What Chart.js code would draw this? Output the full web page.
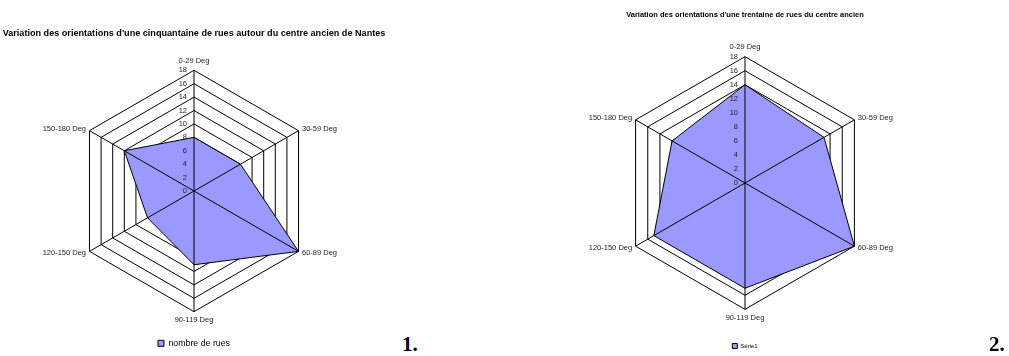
<!DOCTYPE html>
<html>
<head>
<meta charset="utf-8">
<script src="https://cdn.jsdelivr.net/npm/chart.js@4/dist/chart.umd.min.js"></script>
<style>
body { margin: 0; background: #fff; width: 1009px; height: 356px; overflow: hidden; position: relative; font-family: "Liberation Sans", Arial, sans-serif; }
.box { position: absolute; top: 0; }
.num { position: absolute; font-family: "Liberation Serif", "Times New Roman", serif; font-weight: bold; font-size: 21px; color: #000; }
</style>
</head>
<body>
<div class="box" style="left:0px"><canvas id="chart1" width="388" height="356"></canvas></div>
<div class="box" style="left:500px"><canvas id="chart2" width="490" height="356"></canvas></div>
<div class="num" style="left:402px;top:332px">1.</div>
<div class="num" style="left:989px;top:332px">2.</div>

<script>
// data
const orientations = ["0-29 Deg", "30-59 Deg", "60-89 Deg", "90-119 Deg", "120-150 Deg", "150-180 Deg"];
const ruesNantes = [8, 8, 18, 11, 8, 12];
const ruesCentre = [14, 13, 18, 15, 15, 12];
const scaleMax = 18;
const scaleStep = 2;

const FONT = "'Liberation Sans', Arial, sans-serif";

// spokes and tick labels drawn over the filled area, like the original
const overlay = {
    id: "overlay",
    afterDatasetsDraw(chart) {
        const r = chart.scales.r;
        const ctx = chart.ctx;
        ctx.save();
        ctx.strokeStyle = "#000";
        ctx.lineWidth = 1;
        for (let i = 0; i < orientations.length; i++) {
            const p = r.getPointPositionForValue(i, r.max);
            ctx.beginPath();
            ctx.moveTo(r.xCenter, r.yCenter);
            ctx.lineTo(p.x, p.y);
            ctx.stroke();
        }
        ctx.fillStyle = "#222";
        ctx.font = "7.5px " + FONT;
        ctx.textAlign = "right";
        ctx.textBaseline = "middle";
        r.ticks.forEach(t => {
            const d = r.getDistanceFromCenterForValue(t.value);
            ctx.fillText(t.label, r.xCenter - 7, r.yCenter - d);
        });
        ctx.restore();
    }
};

function radarOptions(o) {
    return {
        responsive: false,
        animation: false,
        layout: { padding: { top: o.top, bottom: o.bottom, left: 0, right: 0 } },
        plugins: {
            title: {
                display: true,
                text: o.title,
                color: "#000",
                font: { family: FONT, size: o.titleSize, weight: "bold" },
                padding: { top: 0, bottom: o.titleGap }
            },
            legend: {
                position: "bottom",
                labels: {
                    color: "#000",
                    boxWidth: o.box,
                    boxHeight: o.box,
                    padding: o.legendGap,
                    font: { family: FONT, size: o.legendSize }
                }
            },
            tooltip: { enabled: false }
        },
        scales: {
            r: {
                min: 0,
                max: scaleMax,
                ticks: { stepSize: scaleStep, display: false },
                grid: { color: "#000", lineWidth: 1 },
                angleLines: { display: false },
                pointLabels: {
                    color: "#222",
                    padding: ctx => o.labelPad[ctx.index],
                    font: { family: FONT, size: 7.5, lineHeight: 0.01 }
                }
            }
        }
    };
}

function makeDataset(label, values) {
    return {
        label: label,
        data: values,
        backgroundColor: "#9999FF",
        borderColor: "#000",
        borderWidth: 1,
        fill: true,
        pointRadius: 0,
        tension: 0
    };
}

new Chart(document.getElementById("chart1"), {
    type: "radar",
    data: { labels: orientations, datasets: [makeDataset("nombre de rues", ruesNantes)] },
    options: radarOptions({
        title: "Variation des orientations d'une cinquantaine de rues autour du centre ancien de Nantes",
        titleSize: 9.1, titleGap: 21.5, top: 28, bottom: -1.7,
        legendSize: 8.8, box: 6, legendGap: 17.2,
        labelPad: [9.8, 4, 4, 8.4, 4, 4]
    }),
    plugins: [overlay]
});

new Chart(document.getElementById("chart2"), {
    type: "radar",
    data: { labels: orientations, datasets: [makeDataset("Série1", ruesCentre)] },
    options: radarOptions({
        title: "Variation des orientations d'une trentaine de rues du centre ancien",
        titleSize: 7.5, titleGap: 27.8, top: 10.5, bottom: -3,
        legendSize: 6, box: 5, legendGap: 24,
        labelPad: [9.3, 4, 4, 8.3, 4, 4]
    }),
    plugins: [overlay]
});
</script>
</body>
</html>
